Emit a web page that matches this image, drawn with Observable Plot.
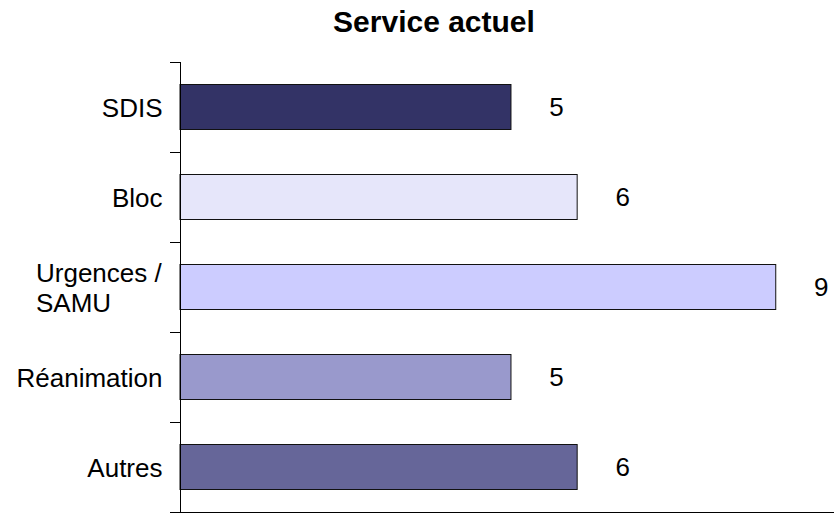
<!DOCTYPE html>
<html>
<head>
<meta charset="utf-8">
<script src="https://cdn.jsdelivr.net/npm/d3@7"></script>
<script src="https://cdn.jsdelivr.net/npm/@observablehq/plot@0.6"></script>
<style>
  body { margin: 0; background: #fff; font-family: "Liberation Sans", Arial, sans-serif; }
  #title { width: 834px; height: 50px; box-sizing: border-box; padding-top: 4px; padding-left: 34px;
           text-align: center; font-weight: bold; font-size: 30px; line-height: 36px; color: #000; }
</style>
</head>
<body>
<div id="title">Service actuel</div>
<div id="chart"></div>
<script>
const categories = ["SDIS", "Bloc", "Urgences /\nSAMU", "Réanimation", "Autres"];
const values = [5, 6, 9, 5, 6];
const colors = ["#333366", "#e6e6fa", "#ccccff", "#9999cc", "#666699"];
const xMax = 9.88;

const data = categories.map((c, i) => ({i, category: c, value: values[i], color: colors[i]}));
const boundaries = d3.range(categories.length + 1).map(k => k - 0.5);
const font = "Liberation Sans, Arial, sans-serif";

const chart = Plot.plot({
  width: 834,
  height: 470,
  marginLeft: 180,
  marginRight: 0,
  marginTop: 12,
  marginBottom: 8,
  style: {fontFamily: font, fontSize: "26px", color: "#000", background: "#fff"},
  x: {domain: [0, xMax], axis: null},
  y: {domain: [-0.5, categories.length - 0.5], reverse: true, axis: null},
  marks: [
    Plot.rectX(data, {
      x1: 0, x2: "value",
      y1: d => d.i - 0.25, y2: d => d.i + 0.25,
      fill: "color", stroke: "#111", strokeWidth: 1
    }),
    Plot.text(data, {
      x: "value", y: "i", text: d => String(d.value),
      dx: 45, fontSize: 26, fill: "#000"
    }),
    Plot.axisY({ticks: boundaries, tickSize: 10, tickFormat: () => "", stroke: "#000", label: null}),
    Plot.axisY({
      ticks: d3.range(categories.length), tickSize: 0, tickPadding: 18, label: null,
      tickFormat: i => categories[i], fontSize: 26, lineHeight: 1.13, fill: "#000"
    }),
    Plot.ruleX([0], {stroke: "#000"}),
    Plot.ruleY([categories.length - 0.5], {stroke: "#000"})
  ]
});
document.getElementById("chart").appendChild(chart);

// left-align the lines of the multi-line label while keeping the block right-aligned
chart.querySelectorAll("text").forEach(t => {
  if (t.querySelectorAll("tspan").length > 1) {
    const w = t.getBBox().width;
    t.setAttribute("text-anchor", "start");
    t.querySelectorAll("tspan").forEach(s => s.setAttribute("x", -w));
  }
});
</script>
</body>
</html>
